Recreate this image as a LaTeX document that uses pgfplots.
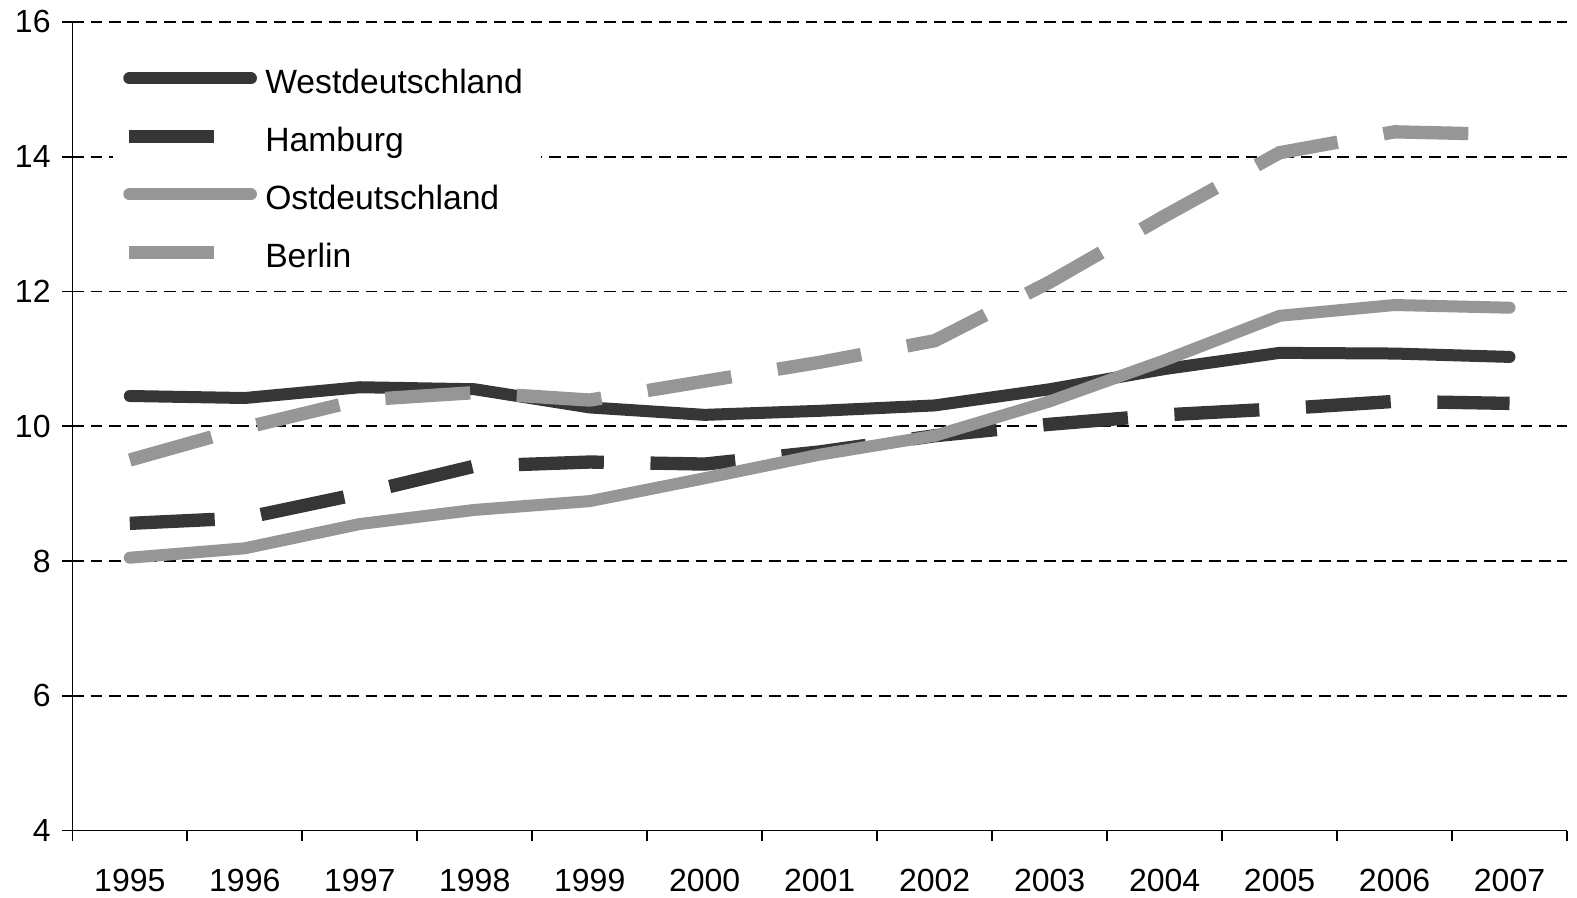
\documentclass[border=0pt]{standalone}
\usepackage{pgfplots}
\pgfplotsset{compat=1.18}
\usepackage{fontspec}
\setmainfont{Liberation Sans}
\definecolor{darkl}{RGB}{54,54,54}
\definecolor{lightl}{RGB}{150,150,150}
\begin{document}
\begin{tikzpicture}
\useasboundingbox (-21.7pt,-20.2pt) rectangle (451.4pt,249.2pt);
\begin{axis}[
  at={(0,0)}, anchor=south west,
  scale only axis, width=448.4pt, height=242.6pt,
  xmin=-0.5, xmax=12.5, ymin=4, ymax=16,
  axis lines=left, axis line style={-, line width=0.5pt, black},
  ytick={4,6,...,16},
  xtick={0,...,12},
  xticklabels={1995,1996,1997,1998,1999,2000,2001,2002,2003,2004,2005,2006,2007},
  minor xtick={-0.5,0.5,...,12.5},
  major x tick style={draw=none},
  tick align=outside, major tick length=3pt, minor tick length=3pt,
  tick style={black, line width=0.5pt},
  ymajorgrids, grid style={black, line width=0.5pt, dash pattern=on 3.5pt off 2pt},
  tick label style={font=\fontsize{9.6}{11}\selectfont},
  xticklabel style={yshift=-5pt},
  /pgf/number format/assume math mode=true,
  legend image code/.code={\draw[#1] (0pt,0pt) -- (36.5pt,0pt);},
  legend cell align=left,
  legend style={at={(0.0265,0.958)}, anchor=north west, draw=none, fill=white,
    inner xsep=3pt, inner ysep=2pt, row sep=8.4pt,
    font=\fontsize{10.1}{12}\selectfont,
    nodes={inner xsep=2.3pt, inner ysep=0pt, text height=9pt, text depth=0pt}},
]
\addplot[darkl, line width=3.6pt, line cap=round, line join=round] coordinates {
(0,10.45) (1,10.42) (2,10.58) (3,10.55) (4,10.28) (5,10.17) (6,10.23) (7,10.31) (8,10.55) (9,10.85) (10,11.09) (11,11.08) (12,11.03)};
\addlegendentry{Westdeutschland}
\addplot[darkl, line width=4pt, line cap=butt, dash pattern=on 25.5pt off 14pt] coordinates {
(0,8.56) (1,8.64) (2,9.0) (3,9.41) (4,9.47) (5,9.44) (6,9.62) (7,9.86) (8,10.03) (9,10.17) (10,10.26) (11,10.37) (12,10.34)};
\addlegendentry{Hamburg}
\addplot[lightl, line width=3.6pt, line cap=round, line join=round] coordinates {
(0,8.05) (1,8.19) (2,8.55) (3,8.76) (4,8.89) (5,9.23) (6,9.58) (7,9.86) (8,10.37) (9,10.98) (10,11.64) (11,11.8) (12,11.76)};
\addlegendentry{Ostdeutschland}
\addplot[lightl, line width=4pt, line cap=butt, dash pattern=on 25.5pt off 14pt] coordinates {
(0,9.5) (1,9.98) (2,10.39) (3,10.5) (4,10.39) (5,10.67) (6,10.95) (7,11.27) (8,12.14) (9,13.12) (10,14.06) (11,14.37) (12,14.33)};
\addlegendentry{Berlin}
\end{axis}
\end{tikzpicture}
\end{document}
